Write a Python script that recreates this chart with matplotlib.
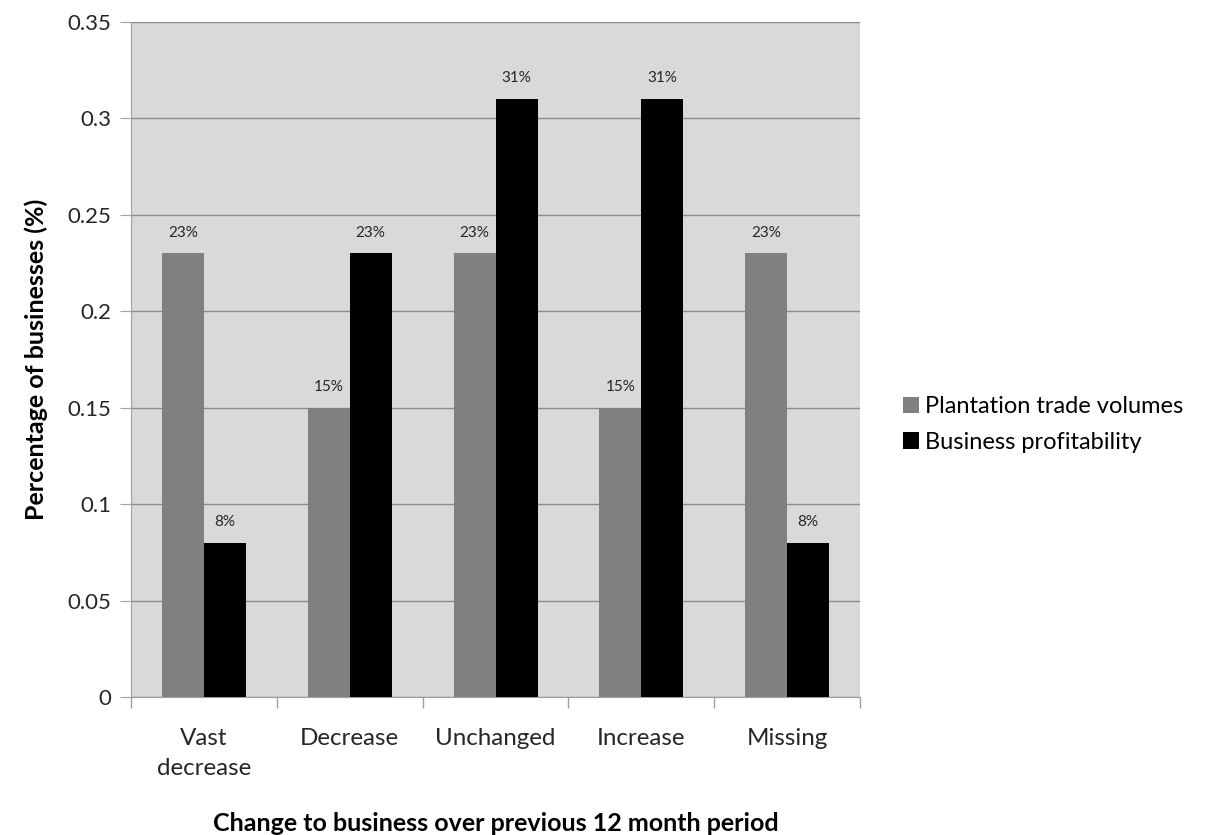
import matplotlib.pyplot as plt
import numpy as np

categories = ["Vast\ndecrease", "Decrease", "Unchanged", "Increase", "Missing"]
trade_volumes = [0.23, 0.15, 0.23, 0.15, 0.23]
profitability = [0.08, 0.23, 0.31, 0.31, 0.08]
trade_labels = ["23%", "15%", "23%", "15%", "23%"]
profit_labels = ["8%", "23%", "31%", "31%", "8%"]

plt.rcParams['font.family'] = ['Lato', 'DejaVu Sans']

fig = plt.figure(figsize=(12.12, 8.35), dpi=100)
ax = fig.add_axes([0.1081, 0.1653, 0.6015, 0.8084])
ax.set_facecolor('#D9D9D9')

x = np.arange(len(categories))
w = 0.288
b1 = ax.bar(x - w / 2, trade_volumes, w, color='#808080', label='Plantation trade volumes', zorder=3)
b2 = ax.bar(x + w / 2, profitability, w, color='#000000', label='Business profitability', zorder=3)

# value labels above the bars
for bars, labs in ((b1, trade_labels), (b2, profit_labels)):
    for bar, lab in zip(bars, labs):
        ax.annotate(lab, (bar.get_x() + bar.get_width() / 2, bar.get_height()),
                    xytext=(0, 12), textcoords='offset points',
                    ha='center', va='baseline', fontsize=11, color='#262626')

ax.set_xlim(-0.5, len(categories) - 0.5)
ax.set_ylim(0, 0.35)
ax.set_yticks(np.arange(0, 0.351, 0.05))
ax.set_yticklabels(['0', '0.05', '0.1', '0.15', '0.2', '0.25', '0.3', '0.35'])
ax.yaxis.grid(True, color='#8C8C8C', linewidth=1, zorder=0)
ax.set_axisbelow(True)

ax.set_xticks(x)
ax.set_xticklabels(categories, fontsize=17.4, color='#262626', linespacing=1.55)
ax.set_xticks(np.arange(-0.5, len(categories)), minor=True)
ax.tick_params(axis='x', which='major', length=0, pad=22)
ax.tick_params(axis='x', which='minor', length=8, color='#A0A0A0', width=1)
ax.tick_params(axis='y', length=8, color='#A0A0A0', labelsize=16, labelcolor='#262626', pad=6)

for s in ('top', 'right'):
    ax.spines[s].set_visible(False)
for s in ('left', 'bottom'):
    ax.spines[s].set_color('#A0A0A0')

ax.set_ylabel('Percentage of businesses (%)', fontsize=18, fontweight='bold', labelpad=14)
ax.set_xlabel('Change to business over previous 12 month period', fontsize=18, fontweight='bold', labelpad=24)

ax.legend(loc='center left', bbox_to_anchor=(0.745, 0.4916), bbox_transform=fig.transFigure,
          frameon=False, fontsize=17, borderpad=0, borderaxespad=0,
          handlelength=0.68, handleheight=0.68, handletextpad=0.25, labelspacing=0.62)

fig.savefig('out.png', dpi=100)
